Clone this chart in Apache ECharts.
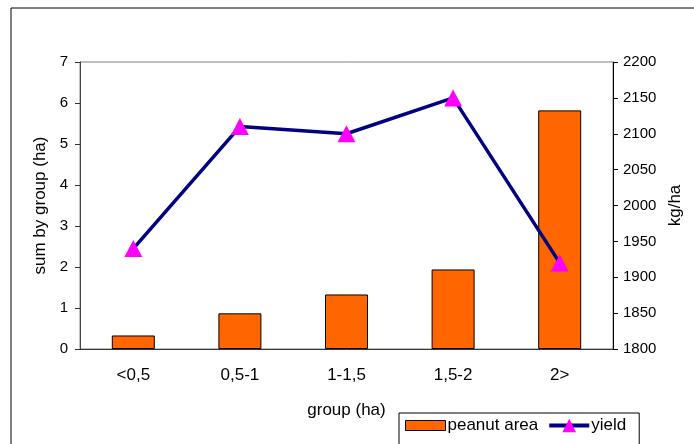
<!DOCTYPE html>
<html>
<head>
<meta charset="utf-8">
<script src="https://cdn.jsdelivr.net/npm/echarts@6/dist/echarts.min.js"></script>
<style>html,body{margin:0;padding:0;background:#fff}#c{width:694px;height:444px}</style>
</head>
<body>
<div id="c"></div>
<script>
var categories = ['<0,5', '0,5-1', '1-1,5', '1,5-2', '2>'];
var peanutArea = [0.33, 0.87, 1.33, 1.94, 5.82];
var yieldValues = [1940, 2110, 2100, 2150, 1920];
var leftTicks = [0, 7, 1];
var rightTicks = [1800, 2200, 50];

var chart = echarts.init(document.getElementById('c'));
var font = 'Liberation Sans, Arial, sans-serif';
chart.setOption({
  animation: false,
  backgroundColor: '#fff',
  textStyle: { fontFamily: font },
  graphic: [{
    type: 'rect', shape: { x: 11, y: 8, width: 720, height: 480 },
    style: { fill: 'none', stroke: '#000', lineWidth: 1 }, z: -10
  }],
  grid: { left: 80, right: 81, top: 62, bottom: 95, show: true, borderColor: '#808080', borderWidth: 1, backgroundColor: 'transparent' },
  legend: {
    left: 399, top: 413, padding: [4, 13, 12, 6], itemGap: 9,
    borderColor: '#000', borderWidth: 1, backgroundColor: '#fff',
    itemWidth: 40, itemHeight: 17, symbolKeepAspect: true,
    textStyle: { fontSize: 17, color: '#000', fontFamily: font, padding: [0, 0, 0, -3] },
    data: [
      { name: 'peanut area', icon: 'path://M0,0 L40,0 L40,10 L0,10 Z', itemStyle: { color: '#FF6600', borderColor: '#000', borderWidth: 1 } },
      { name: 'yield', lineStyle: { color: '#000080', width: 4 } }
    ]
  },
  xAxis: {
    type: 'category', data: categories,
    axisLine: { lineStyle: { color: '#333' } },
    axisTick: { length: 5, lineStyle: { color: '#333' } },
    axisLabel: { color: '#000', fontSize: 17, margin: 18 },
    name: 'group (ha)', nameLocation: 'middle', nameGap: 53,
    nameTextStyle: { color: '#000', fontSize: 17 }
  },
  yAxis: [{
    type: 'value', min: leftTicks[0], max: leftTicks[1], interval: leftTicks[2],
    position: 'left',
    axisLine: { show: true, lineStyle: { color: '#444' } },
    axisTick: { show: true, length: 5, lineStyle: { color: '#333' } },
    splitLine: { show: false },
    axisLabel: { color: '#000', fontSize: 15, margin: 12 },
    name: 'sum by group (ha)', nameLocation: 'middle', nameGap: 30, nameRotate: 90,
    nameTextStyle: { color: '#000', fontSize: 17 }
  }, {
    type: 'value', min: rightTicks[0], max: rightTicks[1], interval: rightTicks[2],
    position: 'right',
    axisLine: { show: true, lineStyle: { color: '#000' } },
    axisTick: { show: true, length: 5, lineStyle: { color: '#000' } },
    splitLine: { show: false },
    axisLabel: { color: '#000', fontSize: 15, margin: 10, formatter: function (v) { return String(v); } },
    name: 'kg/ha', nameLocation: 'middle', nameGap: 54, nameRotate: 90,
    nameTextStyle: { color: '#000', fontSize: 17 }
  }],
  series: [{
    name: 'peanut area', type: 'bar', data: peanutArea, yAxisIndex: 0,
    barWidth: 43,
    itemStyle: { color: '#FF6600', borderColor: '#000', borderWidth: 1 }
  }, {
    name: 'yield', type: 'line', data: yieldValues, yAxisIndex: 1,
    symbol: 'triangle', symbolSize: [18, 17],
    lineStyle: { color: '#000080', width: 3.5 },
    itemStyle: { color: '#FF00FF' },
    z: 5
  }]
});
</script>
</body>
</html>
